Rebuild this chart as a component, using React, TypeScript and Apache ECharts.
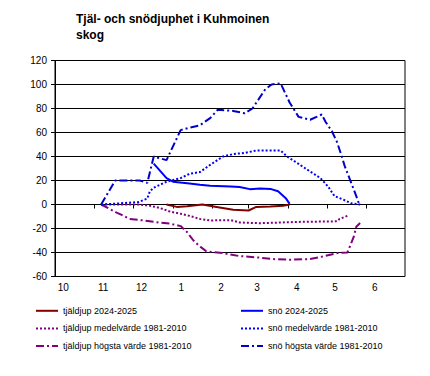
import React, { useEffect, useRef } from "react";
import * as echarts from "echarts";

// days counted from 1 October
const monthStarts = [0, 31, 61, 92, 123, 151, 182, 212, 243, 273];
const monthLabels = ["10", "11", "12", "1", "2", "3", "4", "5", "6"];
const LABEL_SHIFT = 6.5;

const frostNow: [number, number][] = [
  [87, 0], [95, -2], [103, -1.5], [115, 0], [126, -2], [139, -4.4], [151, -5],
  [157, -2], [168, -1.7], [178, -1], [183, 0],
];
const snowNow: [number, number][] = [
  [77, 34], [82, 28], [87, 22], [92, 19], [105, 17.5], [113, 16.5], [121, 15.6],
  [137, 15], [144, 14.5], [152, 12.8], [160, 13.3], [168, 13], [174, 11], [180, 5.3], [183, 0.5],
];
const frostMean: [number, number][] = [
  [36, 0], [66, 0], [74, -1], [82, -3], [90, -6], [98, -7.7], [105, -9.5], [113, -12],
  [121, -13.3], [137, -13], [144, -15], [160, -15.6], [176, -15], [189, -14.5], [199, -14.4],
  [220, -14], [222, -12], [228, -9.5],
];
const snowMean: [number, number][] = [
  [36, 0], [51, 1], [65, 2], [72, 5], [74, 11], [77, 14], [87, 19], [98, 22], [105, 25.6],
  [113, 27], [121, 33], [131, 40], [139, 42], [148, 43], [157, 45], [176, 45], [181, 40],
  [189, 34.5], [199, 27.5], [207, 22], [213, 15], [218, 7], [225, 4], [231, 1], [238, 0],
];
const frostMax: [number, number][] = [
  [36, 0], [48, -6.7], [52, -8.6], [58, -12], [69, -13.3], [79, -14.7], [90, -16], [98, -18],
  [103, -23], [108, -30], [112, -34], [118, -39], [131, -40.5], [144, -43], [157, -44],
  [170, -45.5], [183, -46], [199, -45.5], [209, -43.3], [220, -40.5], [228, -40], [230, -35],
  [233, -27], [235, -18.5], [238, -15.5],
];
const snowMax: [number, number][] = [
  [36, 0], [47, 20], [66, 20], [72, 18], [77, 40], [80, 39], [87, 37], [98, 62], [105, 64],
  [113, 66], [121, 72], [127, 79], [139, 78], [148, 76], [154, 80], [164, 96], [169, 100],
  [176, 101], [183, 85], [190, 73], [199, 70.6], [204, 73], [208, 75], [211, 69], [216, 61],
  [220, 52], [224, 39], [226, 32], [230, 21], [235, 7], [237, 1],
];

const names = {
  frostNow: "tjäldjup 2024-2025",
  snowNow: "snö 2024-2025",
  frostMean: "tjäldjup medelvärde 1981-2010",
  snowMean: "snö medelvärde 1981-2010",
  frostMax: "tjäldjup högsta värde 1981-2010",
  snowMax: "snö högsta värde 1981-2010",
};

const FONT = "'Liberation Sans', Arial, sans-serif";
const DOT = [2, 2];
const DASHDOT = [8, 3, 2, 3];

export default function App() {
  const ref = useRef<HTMLDivElement>(null);
  useEffect(() => {
    if (!ref.current) return;
    const chart = echarts.init(ref.current, null, { renderer: "svg" });
    const line = (name: string, data: [number, number][], color: string, type: any, z = 2) => ({
      name,
      type: "line",
      data,
      xAxisIndex: 0,
      yAxisIndex: 0,
      symbol: "none",
      showSymbol: false,
      z,
      lineStyle: { color, width: 2, type },
      itemStyle: { color },
    });
    const legendCommon = {
      orient: "vertical",
      top: 306,
      itemWidth: 22,
      itemHeight: 12,
      itemGap: 8,
      padding: 0,
      itemStyle: { opacity: 0 },
      textStyle: { fontSize: 9, color: "#000", fontFamily: FONT },
    };
    chart.setOption({
      animation: false,
      textStyle: { fontFamily: FONT },
      title: {
        text: "Tjäl- och snödjuphet i Kuhmoinen\nskog",
        left: 76,
        top: 11,
        padding: 0,
        textStyle: { fontSize: 12, fontWeight: "bold", lineHeight: 16, color: "#000", fontFamily: FONT },
      },
      grid: {
        left: 55,
        top: 60.5,
        width: 350,
        height: 216,
        show: true,
        borderColor: "#000",
        borderWidth: 1,
        containLabel: false,
      },
      legend: [
        { ...legendCommon, left: 35, data: [names.frostNow, names.frostMean, names.frostMax] },
        { ...legendCommon, left: 240, data: [names.snowNow, names.snowMean, names.snowMax] },
      ],
      xAxis: [
        {
          type: "value",
          min: monthStarts[0],
          max: monthStarts[monthStarts.length - 1],
          axisLine: { show: true, onZero: true, lineStyle: { color: "#000", width: 1 } },
          axisTick: {
            show: true,
            length: 4,
            customValues: monthStarts.slice(1, monthStarts.length - 1),
            lineStyle: { color: "#000" },
          },
          axisLabel: { show: false },
          splitLine: { show: false },
        },
        {
          type: "value",
          position: "bottom",
          min: monthStarts[0],
          max: monthStarts[monthStarts.length - 1],
          axisLine: { show: false, onZero: false },
          axisTick: { show: false },
          splitLine: { show: false },
          axisLabel: {
            show: true,
            customValues: monthLabels.map((_, i) => monthStarts[i] + LABEL_SHIFT),
            formatter: (v: number) => {
              const i = monthLabels.findIndex((_, k) => Math.abs(monthStarts[k] + LABEL_SHIFT - v) < 0.5);
              return i >= 0 ? monthLabels[i] : "";
            },
            fontSize: 10,
            color: "#000",
            margin: 6,
            hideOverlap: false,
          },
        },
      ],
      yAxis: {
        type: "value",
        min: -60,
        max: 120,
        interval: 20,
        axisLine: { show: true, lineStyle: { color: "#000" } },
        axisTick: { show: true, length: 4, lineStyle: { color: "#000" } },
        axisLabel: { fontSize: 10, color: "#000", margin: 8 },
        splitLine: { show: true, lineStyle: { color: "#000", width: 1 } },
      },
      series: [
        line(names.frostMax, frostMax, "#800080", DASHDOT),
        line(names.snowMax, snowMax, "#0000CC", DASHDOT),
        line(names.frostMean, frostMean, "#800080", DOT),
        line(names.snowMean, snowMean, "#0000FF", DOT),
        line(names.snowNow, snowNow, "#0000FF", "solid", 3),
        line(names.frostNow, frostNow, "#800000", "solid", 4),
      ],
    });
    return () => chart.dispose();
  }, []);
  return (
    <div
      ref={ref}
      style={{ position: "fixed", left: 0, top: 0, width: 430, height: 376, background: "#fff" }}
    />
  );
}
